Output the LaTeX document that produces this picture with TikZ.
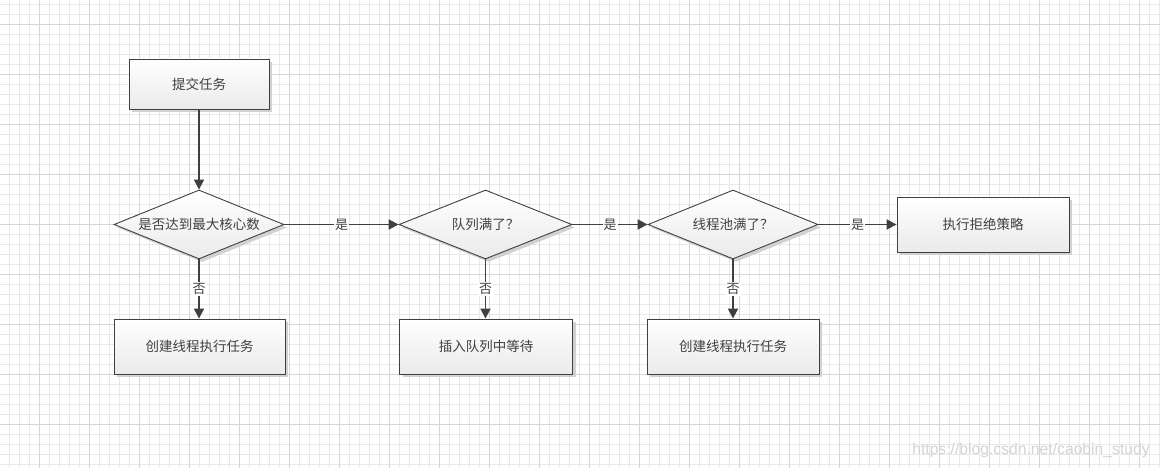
\documentclass[tikz,border=0pt]{standalone}
\usepackage{fontspec}
\newfontfamily\cjk{Noto Sans CJK SC}
\newfontfamily\wmfont{Liberation Sans}
\usetikzlibrary{shapes.geometric,arrows.meta,shadows}
\definecolor{minorgrid}{HTML}{E9E9E9}
\definecolor{majorgrid}{HTML}{D6D6D6}
\definecolor{ink}{HTML}{404040}
\definecolor{shadegray}{HTML}{EAEAEA}
\definecolor{wm}{HTML}{D4D4D4}
\tikzset{
  boxbase/.style={draw=ink, line width=0.9pt, top color=white, bottom color=shadegray,
    drop shadow={shadow xshift=3pt, shadow yshift=-3pt, fill=black!18, opacity=1},
    text=ink, font=\cjk\fontsize{13.5}{16}\selectfont, inner sep=0pt},
  procbox/.style={boxbase, rectangle, minimum width=172pt, minimum height=55pt},
  decbox/.style={boxbase, diamond, aspect=2.46, minimum width=172pt, minimum height=69pt},
  flow/.style={draw=ink, line width=1.9pt, -{Triangle[length=10pt,width=10pt]}},
  elabel/.style={fill=white, inner sep=1pt, text=ink, font=\cjk\fontsize{13}{15}\selectfont}
}
\begin{document}
\begin{tikzpicture}[x=1pt,y=-1pt]
\useasboundingbox (0,0) rectangle (1160,468);
\fill[white] (0,0) rectangle (1160,468);
% grid
\foreach \x in {9.5,19.5,...,1159.5} \draw[minorgrid, line width=1pt] (\x,0) -- (\x,468);
\foreach \y in {4.5,14.5,...,464.5} \draw[minorgrid, line width=1pt] (0,\y) -- (1160,\y);
\foreach \x in {39.5,89.5,...,1139.5} \draw[majorgrid, line width=1pt] (\x,0) -- (\x,468);
\foreach \y in {24.5,74.5,...,424.5} \draw[majorgrid, line width=1pt] (0,\y) -- (1160,\y);
% nodes
\node[procbox, minimum width=140pt, minimum height=50pt] (submit) at (199,84) {提交任务};
\node[decbox, minimum width=170pt] (d1) at (199,224.5) {是否达到最大核心数};
\node[decbox, minimum width=173pt] (d2) at (485.5,224.5) {队列满了？};
\node[decbox, minimum width=170pt] (d3) at (733,224.5) {线程池满了？};
\node[procbox] (reject) at (983,224.5) {执行拒绝策略};
\node[procbox, minimum width=171pt] (b1) at (199.5,346.5) {创建线程执行任务};
\node[procbox, minimum width=173pt] (b2) at (486,346.5) {插入队列中等待};
\node[procbox] (b3) at (733,346.5) {创建线程执行任务};
% connectors
\draw[flow] (submit) -- (d1);
\draw[flow] (d1) -- node[elabel]{是} (d2);
\draw[flow] (d2) -- node[elabel]{是} (d3);
\draw[flow] (d3) -- node[elabel]{是} (reject);
\draw[flow] (d1.south) -- node[elabel]{否} (b1.north -| d1.south);
\draw[flow] (d2.south) -- node[elabel]{否} (b2.north -| d2.south);
\draw[flow] (d3.south) -- node[elabel]{否} (b3.north -| d3.south);
% watermark
\node[text=wm, font=\wmfont\fontsize{15.7}{18}\selectfont, inner sep=0pt] (wmark) at (1031,450) {https://blog.csdn.net/caobin\_study};
\end{tikzpicture}
\end{document}
